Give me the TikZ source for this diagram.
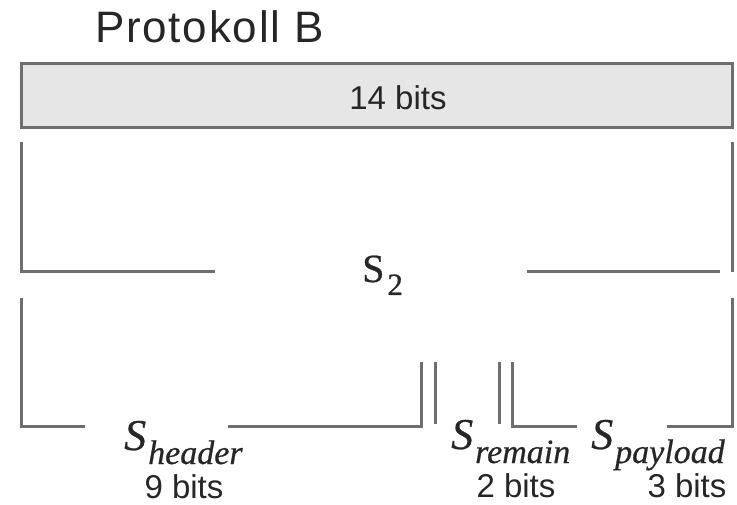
\documentclass[tikz,border=0pt]{standalone}
\usepackage{fontspec}
\setmainfont{Liberation Sans}
\newfontfamily\titlefont[LetterSpace=4]{Liberation Sans}
\newfontfamily\symfont[FakeBold=0.6]{Liberation Serif}
\definecolor{rule}{HTML}{6E6E6E}
\definecolor{cell}{HTML}{E6E6E6}
\definecolor{ink}{HTML}{262626}
% italic field symbol with a lowered italic index
\newcommand{\fieldsym}[1]{{\symfont\itshape\fontsize{44}{44}\selectfont S\hspace{2pt}\raisebox{-14pt}{\fontsize{34}{34}\selectfont #1}}}
% upright symbol with a lowered upright index
\newcommand{\segsym}[1]{{\symfont\fontsize{40}{40}\selectfont S\hspace{3pt}\raisebox{-13pt}{\fontsize{31}{31}\selectfont #1}}}
\begin{document}
\begin{tikzpicture}[x=1pt,y=-1pt,
  bracket/.style={draw=rule,line width=3pt,line join=miter,line cap=butt},
  bitlabel/.style={inner sep=0pt,anchor=base,text=ink,font=\fontsize{33}{33}\selectfont},
  symlabel/.style={inner sep=0pt,anchor=base west,text=ink}]
\useasboundingbox (0,0) rectangle (737,505);

% title
\node[inner sep=0pt,anchor=base west,text=ink,font=\titlefont\fontsize{44}{44}\selectfont] (title) at (95,43) {Protokoll B};

% whole message cell
\draw[bracket,fill=cell] (21,64) rectangle (732,128);
\coordinate (cellc) at (398,110);
\node[bitlabel] (total) at (cellc) {14 bits};

% bracket spanning s_2
\draw[bracket] (21,142) -- (21,272) -- (215,272);
\draw[bracket] (527,272) -- (720,272);
\draw[bracket] (732,142) -- (732,272);
\node[symlabel] (s2) at (362,282) {\segsym{2}};

% brackets of the three sub-fields
\draw[bracket] (21,298) -- (21,426) -- (85,426);
\draw[bracket] (228,426) -- (421,426) -- (421,362);
\draw[bracket] (435,362) -- (435,424);
\draw[bracket] (499,362) -- (499,424);
\draw[bracket] (512,362) -- (512,426) -- (577,426);
\draw[bracket] (667,426) -- (732,426) -- (732,298);

\node[symlabel] (sheader) at (124,450) {\fieldsym{header}};
\node[symlabel] (sremain) at (451,449) {\fieldsym{remain}};
\node[symlabel] (spayload) at (591,449) {\fieldsym{payload}};

\node[bitlabel] (bheader) at (184,498) {9 bits};
\node[bitlabel] (bremain) at (516,497) {2 bits};
\node[bitlabel] (bpayload) at (687,497) {3 bits};
\end{tikzpicture}
\end{document}
